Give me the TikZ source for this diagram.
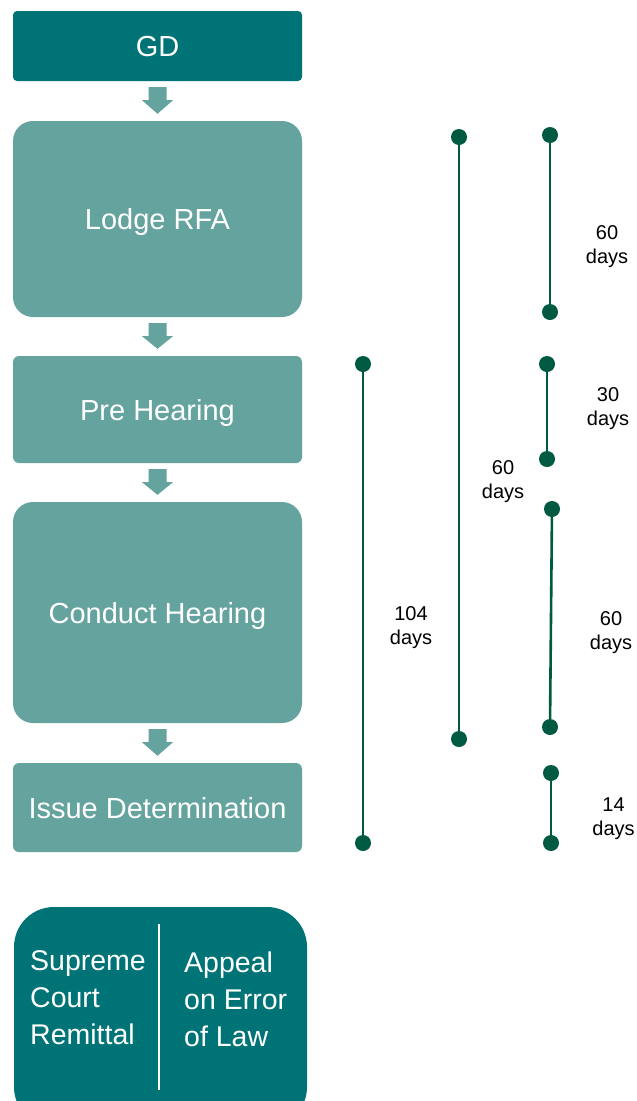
\documentclass[tikz,border=0pt]{standalone}
\usepackage{fontspec}
\setmainfont{Liberation Sans}
\usetikzlibrary{calc}
\definecolor{darkteal}{RGB}{0,115,119}
\definecolor{lightteal}{RGB}{100,163,158}
\definecolor{dotgreen}{RGB}{0,90,66}
\newcommand\blockarrow[2]{%
  \fill[lightteal] let \p1=(#1.south), \p2=(#2.north) in
    (\x1-9pt,\y1-6pt) -- (\x1+9pt,\y1-6pt) -- (\x1+9pt,\y1-19pt) -- (\x1+15.5pt,\y1-19pt)
    -- (\x1,\y2+7pt) -- (\x1-15.5pt,\y1-19pt) -- (\x1-9pt,\y1-19pt) -- cycle;}
\begin{document}
\begin{tikzpicture}[x=1pt,y=-1pt,
  stepbox/.style={fill=lightteal, text=white, minimum width=289pt, inner sep=0pt,
    text height=21pt, text depth=0pt, font=\fontsize{29}{34}\selectfont},
  dot/.style={circle, fill=dotgreen, minimum size=16pt, inner sep=0pt},
  tl/.style={draw=dotgreen, line width=2.6pt},
  lbl/.style={align=center, font=\fontsize{20}{24}\selectfont, inner sep=0pt},
  wtext/.style={text=white, align=left, font=\fontsize{28.5}{37}\selectfont, inner sep=0pt}]
\useasboundingbox (0,0) rectangle (637,1101);
\fill[white] (0,0) rectangle (637,1101);

% process boxes
\node[stepbox, fill=darkteal, rounded corners=4pt, minimum height=70pt] (gd) at (157.5,46) {GD};
\node[stepbox, rounded corners=20pt, minimum height=196pt] (rfa) at (157.5,219) {Lodge RFA};
\node[stepbox, rounded corners=6pt, minimum height=107pt] (pre) at (157.5,409.5) {Pre Hearing};
\node[stepbox, rounded corners=20pt, minimum height=221pt] (ch) at (157.5,612.5) {Conduct Hearing};
\node[stepbox, rounded corners=6pt, minimum height=89pt] (id) at (157.5,807.5) {Issue Determination};

\blockarrow{gd}{rfa}
\blockarrow{rfa}{pre}
\blockarrow{pre}{ch}
\blockarrow{ch}{id}

% bottom box
\node[fill=darkteal, rounded corners=40pt, minimum width=293pt, minimum height=220pt, inner sep=0pt] (sc) at (160.5,1017) {};
\coordinate (divt) at (159,924);
\coordinate (divb) at (159,1090);
\draw[white, line width=1.2pt] (divt) -- (divb);
\node[wtext, anchor=west] (scr) at (30,998) {Supreme\\Court\\Remittal};
\node[wtext, anchor=west] (aoe) at (184,999) {Appeal\\on Error\\of Law};

% timelines
\node[dot] (a1) at (363,364) {};
\node[dot] (a2) at (363,843) {};
\draw[tl] (a1) -- (a2);
\node[lbl] (la) at (411,628) {104\\days};

\node[dot] (b1) at (459,137) {};
\node[dot] (b2) at (459,739) {};
\draw[tl] (b1) -- (b2);
\node[lbl] (lb) at (503,482) {60\\days};

\node[dot] (c1) at (550,135) {};
\node[dot] (c2) at (550,312) {};
\draw[tl] (c1) -- (c2);
\node[lbl] (lc1) at (607,247) {60\\days};

\node[dot] (c3) at (547,364) {};
\node[dot] (c4) at (547,459) {};
\draw[tl] (c3) -- (c4);
\node[lbl] (lc2) at (608,409) {30\\days};

\node[dot] (c5) at (552,509) {};
\node[dot] (c6) at (550,727) {};
\draw[tl] (c5) -- (c6);
\node[lbl] (lc3) at (611,633) {60\\days};

\node[dot] (c7) at (551,773) {};
\node[dot] (c8) at (551,843) {};
\draw[tl] (c7) -- (c8);
\node[lbl] (lc4) at (613.5,819) {14\\days};
\end{tikzpicture}
\end{document}
